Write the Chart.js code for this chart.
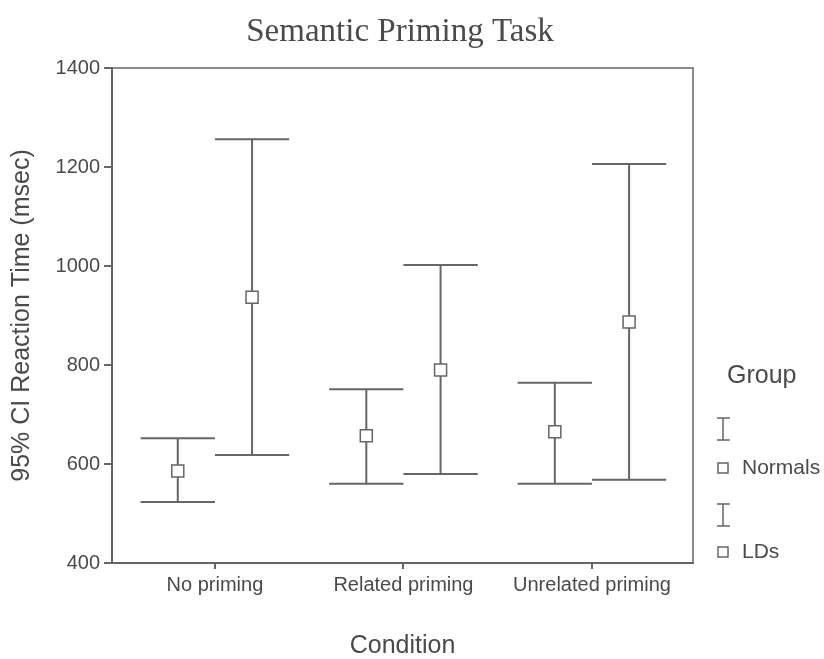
<!DOCTYPE html>
<html>
<head>
<meta charset="utf-8">
<script src="https://cdn.jsdelivr.net/npm/chart.js@4.4.1/dist/chart.umd.min.js"></script>
<style>
  html, body { margin: 0; padding: 0; background: #fff; }
  #wrap { width: 824px; height: 659px; }
</style>
</head>
<body>
<div id="wrap"><canvas id="chart" width="824" height="659"></canvas></div>
<script>
// data
var categories = ['No priming', 'Related priming', 'Unrelated priming'];
var groups = ['Normals', 'LDs'];
var normalsMean = [586, 657, 665];
var normalsLow = [523, 560, 560];
var normalsHigh = [652, 751, 764];
var ldsMean = [937, 790, 887];
var ldsLow = [618, 580, 568];
var ldsHigh = [1256, 1002, 1206];
var yTicks = [400, 600, 800, 1000, 1200, 1400];

var gray = '#666';
var textGray = '#4a4a4a';
var shift = 0.197;   // offset of each group from its category
var capHalf = 0.197; // half width of the whisker caps

function points(mean, low, high, dx) {
    var out = [];
    for (var i = 0; i < mean.length; i++) {
        out.push({x: i + dx, y: mean[i], low: low[i], high: high[i]});
    }
    return out;
}

var errorBars = {
    id: 'errorBars',
    beforeDatasetsDraw: function(chart) {
        var ctx = chart.ctx;
        var xs = chart.scales.x, ys = chart.scales.y;
        ctx.save();
        ctx.strokeStyle = gray;
        ctx.lineWidth = 2;
        chart.data.datasets.forEach(function(ds) {
            ds.data.forEach(function(p) {
                var x = xs.getPixelForValue(p.x);
                var x0 = xs.getPixelForValue(p.x - capHalf);
                var x1 = xs.getPixelForValue(p.x + capHalf);
                var yl = ys.getPixelForValue(p.low);
                var yh = ys.getPixelForValue(p.high);
                ctx.beginPath();
                ctx.moveTo(x, yl); ctx.lineTo(x, yh);
                ctx.moveTo(x0, yl); ctx.lineTo(x1, yl);
                ctx.moveTo(x0, yh); ctx.lineTo(x1, yh);
                ctx.stroke();
            });
        });
        ctx.restore();
    }
};

var frame = {
    id: 'frame',
    afterDraw: function(chart) {
        var ctx = chart.ctx, a = chart.chartArea;
        ctx.save();
        ctx.strokeStyle = gray;
        ctx.lineWidth = 1.5;
        ctx.strokeRect(a.left, a.top, a.right - a.left, a.bottom - a.top);

        // title
        ctx.fillStyle = textGray;
        ctx.font = '33px "Liberation Serif", "Times New Roman", serif';
        ctx.textAlign = 'center';
        ctx.textBaseline = 'alphabetic';
        ctx.fillText('Semantic Priming Task', 400, 41);

        // legend
        ctx.font = '25px "Liberation Sans", Arial, sans-serif';
        ctx.textAlign = 'left';
        ctx.textBaseline = 'middle';
        ctx.fillText('Group', 727, 376);
        ctx.font = '21px "Liberation Sans", Arial, sans-serif';
        var rows = [{bar: 429, box: 468}, {bar: 515, box: 552}];
        ctx.lineWidth = 1.5;
        ctx.strokeStyle = gray;
        rows.forEach(function(r, i) {
            ctx.beginPath();
            ctx.moveTo(723, r.bar - 11); ctx.lineTo(723, r.bar + 11);
            ctx.moveTo(717, r.bar - 11); ctx.lineTo(730, r.bar - 11);
            ctx.moveTo(717, r.bar + 11); ctx.lineTo(730, r.bar + 11);
            ctx.stroke();
            ctx.strokeRect(718, r.box - 5, 10, 10);
            ctx.fillText(groups[i], 742, r.box);
        });
        ctx.restore();
    }
};

var ctx = document.getElementById('chart').getContext('2d');
var chart = new Chart(ctx, {
    type: 'scatter',
    data: {
        datasets: [{
            label: groups[0],
            data: points(normalsMean, normalsLow, normalsHigh, -shift),
            pointStyle: 'rect',
            radius: 8.5,
            borderColor: gray,
            backgroundColor: '#fff',
            borderWidth: 1.5
        }, {
            label: groups[1],
            data: points(ldsMean, ldsLow, ldsHigh, shift),
            pointStyle: 'rect',
            radius: 8.5,
            borderColor: gray,
            backgroundColor: '#fff',
            borderWidth: 1.5
        }]
    },
    options: {
        responsive: false,
        animation: false,
        events: [],
        layout: { padding: { top: 68, right: 131, left: 0, bottom: 0 } },
        plugins: {
            legend: { display: false },
            title: { display: false },
            tooltip: { enabled: false }
        },
        scales: {
            x: {
                type: 'linear',
                min: -0.546,
                max: 2.536,
                afterFit: function(s) { s.height = 96; },
                afterBuildTicks: function(s) {
                    s.ticks = categories.map(function(c, i) { return {value: i}; });
                },
                ticks: {
                    color: textGray,
                    padding: 4,
                    maxRotation: 0,
                    font: { family: '"Liberation Sans", Arial, sans-serif', size: 20 },
                    callback: function(v) { return categories[v]; }
                },
                grid: { drawOnChartArea: false, tickLength: 6, color: gray, lineWidth: 2 },
                border: { color: gray, width: 2 },
                title: {
                    display: true,
                    text: 'Condition',
                    color: textGray,
                    padding: { top: 0, bottom: -2 },
                    font: { family: '"Liberation Sans", Arial, sans-serif', size: 25 }
                }
            },
            y: {
                min: 400,
                max: 1400,
                afterFit: function(s) { s.width = 112; },
                afterBuildTicks: function(s) {
                    s.ticks = yTicks.map(function(v) { return {value: v}; });
                },
                ticks: {
                    color: textGray,
                    padding: 4,
                    font: { family: '"Liberation Sans", Arial, sans-serif', size: 20 },
                    callback: function(v) { return String(v); }
                },
                grid: { drawOnChartArea: false, tickLength: 8, color: gray, lineWidth: 2 },
                border: { color: gray, width: 2 },
                title: {
                    display: true,
                    text: '95% CI Reaction Time (msec)',
                    color: textGray,
                    padding: { top: 7, bottom: 0 },
                    font: { family: '"Liberation Sans", Arial, sans-serif', size: 25 }
                }
            }
        }
    },
    plugins: [errorBars, frame]
});
</script>
</body>
</html>
